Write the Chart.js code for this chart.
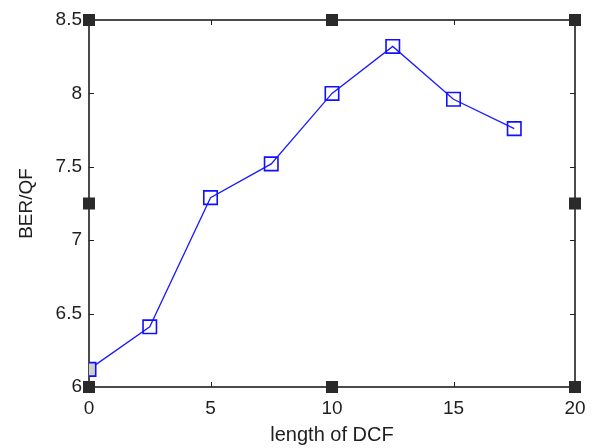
<!DOCTYPE html>
<html lang="en">
<head>
    <meta charset="UTF-8">
    <title>BER/QF vs length of DCF</title>
    <script src="https://cdn.jsdelivr.net/npm/chart.js@4.4.0/dist/chart.umd.min.js"></script>
    <style>
        html, body { margin: 0; padding: 0; background: #fff; }
        #wrap { width: 597px; height: 448px; }
    </style>
</head>
<body>
    <div id="wrap"><canvas id="ber-chart" width="597" height="448"></canvas></div>

    <script>
        // data
        const lengthDCF = [0, 2.5, 5, 7.5, 10, 12.5, 15, 17.5];
        const berQF = [6.12, 6.41, 7.29, 7.52, 8.0, 8.32, 7.96, 7.76];
        const xTicks = [0, 5, 10, 15, 20];
        const yTicks = [6, 6.5, 7, 7.5, 8, 8.5];
        // the black selection handles on the axes box
        const handleX = [0, 10, 20, 0, 20, 0, 10, 20];
        const handleY = [8.5, 8.5, 8.5, 7.25, 7.25, 6, 6, 6];

        const FONT = "'Liberation Sans', Arial, sans-serif";
        const INK = '#1e1e1e';

        // matlab style box with inward ticks
        const boxPlugin = {
            id: 'box',
            beforeDatasetsDraw(chart) {
                const { ctx, chartArea: a, scales } = chart;
                const tl = 5;
                ctx.save();
                ctx.strokeStyle = INK;
                ctx.lineWidth = 1;
                ctx.beginPath();
                xTicks.forEach(v => {
                    const px = Math.round(scales.x.getPixelForValue(v)) + 0.5;
                    ctx.moveTo(px, a.bottom); ctx.lineTo(px, a.bottom - tl);
                    ctx.moveTo(px, a.top); ctx.lineTo(px, a.top + tl);
                });
                yTicks.forEach(v => {
                    const py = Math.round(scales.y.getPixelForValue(v)) + 0.5;
                    ctx.moveTo(a.left, py); ctx.lineTo(a.left + tl, py);
                    ctx.moveTo(a.right, py); ctx.lineTo(a.right - tl, py);
                });
                ctx.stroke();
                ctx.lineWidth = 1.6;
                ctx.strokeRect(a.left, a.top, a.right - a.left, a.bottom - a.top);
                ctx.restore();
            }
        };

        const ctx = document.getElementById('ber-chart').getContext('2d');
        new Chart(ctx, {
            type: 'line',
            data: {
                datasets: [
                    {
                        label: 'BER/QF',
                        data: lengthDCF.map((x, i) => ({ x: x, y: berQF[i] })),
                        borderColor: '#1a1aff',
                        borderWidth: 1.3,
                        pointStyle: 'rect',
                        pointRadius: 9.5,
                        pointBorderWidth: 1.6,
                        pointBorderColor: '#1010ff',
                        pointBackgroundColor: lengthDCF.map((x, i) => i === 0 ? '#cfcfcf' : 'rgba(0,0,0,0)'),
                        fill: false,
                        tension: 0,
                        order: 1
                    },
                    {
                        label: 'handles',
                        data: handleX.map((x, i) => ({ x: x, y: handleY[i] })),
                        showLine: false,
                        pointStyle: 'rect',
                        pointRadius: 8.5,
                        pointBorderWidth: 0,
                        pointBackgroundColor: '#2a2a2a',
                        clip: false,
                        order: 2
                    }
                ]
            },
            options: {
                responsive: false,
                animation: false,
                layout: { padding: { top: 20, right: 22, left: 0, bottom: 0 } },
                plugins: {
                    legend: { display: false },
                    tooltip: { enabled: false }
                },
                scales: {
                    x: {
                        type: 'linear',
                        min: 0,
                        max: 20,
                        afterBuildTicks: s => { s.ticks = xTicks.map(v => ({ value: v })); },
                        afterFit: s => { s.height = 61; },
                        grid: { display: false, drawTicks: false },
                        border: { display: false },
                        ticks: {
                            color: INK,
                            padding: 10,
                            maxRotation: 0,
                            callback: v => String(v),
                            font: { family: FONT, size: 19 }
                        },
                        title: {
                            display: true,
                            text: 'length of DCF',
                            color: INK,
                            padding: { top: 0, bottom: 1 },
                            font: { family: FONT, size: 20 }
                        }
                    },
                    y: {
                        type: 'linear',
                        min: 6,
                        max: 8.5,
                        afterBuildTicks: s => { s.ticks = yTicks.map(v => ({ value: v })); },
                        afterFit: s => { s.width = 89; },
                        grid: { display: false, drawTicks: false },
                        border: { display: false },
                        ticks: {
                            color: INK,
                            padding: 7,
                            callback: v => String(v),
                            font: { family: FONT, size: 19 }
                        },
                        title: {
                            display: true,
                            text: 'BER/QF',
                            color: INK,
                            padding: { top: 15, bottom: 0 },
                            font: { family: FONT, size: 19 }
                        }
                    }
                }
            },
            plugins: [boxPlugin]
        });
    </script>
</body>
</html>
